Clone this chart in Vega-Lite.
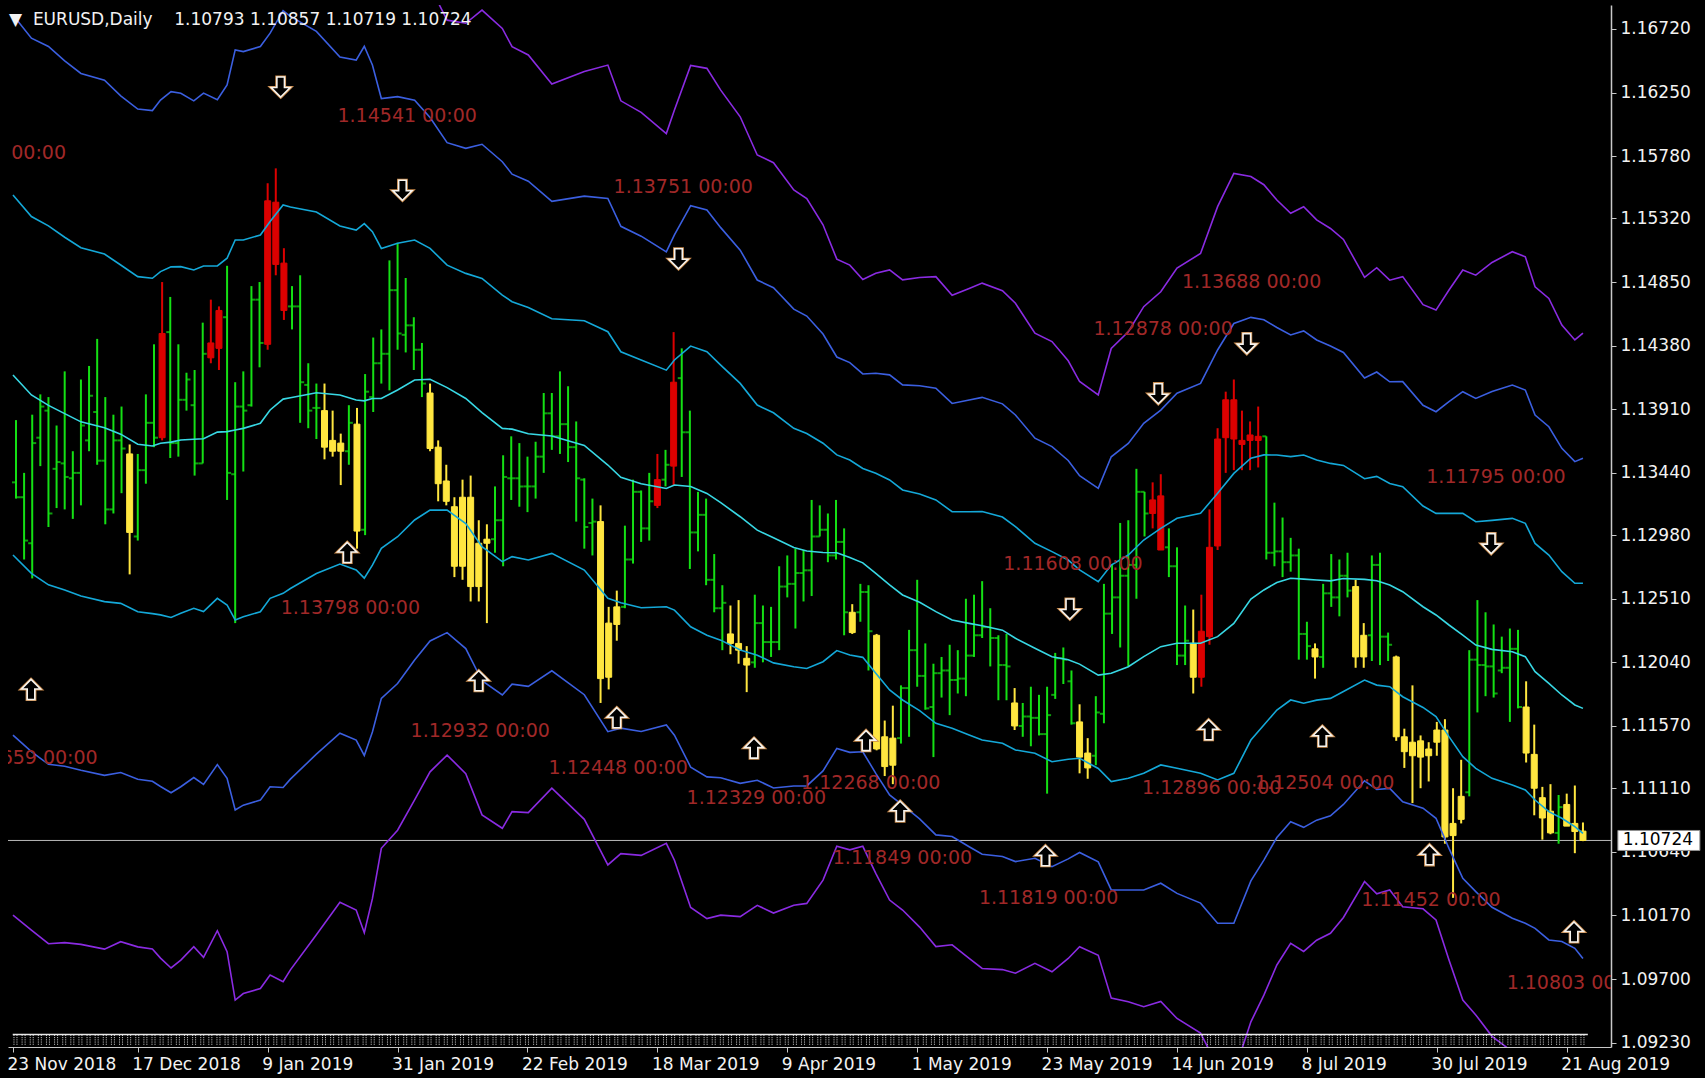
{
"$schema":"https://vega.github.io/schema/vega-lite/v6.json",
"width":1603,"height":1042,
"autosize":{"type":"none"},
"padding":{"left":8,"top":5,"right":94,"bottom":31},
"background":"black",
"config":{"view":{"fill":"black","stroke":null}},
"title":{"text":"▼\u00a0 EURUSD,Daily\u00a0\u00a0\u00a0 1.10793 1.10857 1.10719 1.10724","anchor":"start","frame":"group","orient":"top","offset":0,"baseline":"middle","dy":32,"dx":1,"color":"#f2f2f2","font":"DejaVu Sans","fontSize":17,"fontWeight":"normal"},
"datasets":{
"bars":[
{"k":0,"t":"g","o":1.1337,"h":1.1383,"l":1.1325,"c":1.1326},
{"k":1,"t":"g","o":1.1326,"h":1.1344,"l":1.1280,"c":1.1294},
{"k":2,"t":"g","o":1.1292,"h":1.1387,"l":1.1266,"c":1.1366},
{"k":3,"t":"g","o":1.1370,"h":1.1402,"l":1.1349,"c":1.1393},
{"k":4,"t":"g","o":1.1390,"h":1.1400,"l":1.1304,"c":1.1314},
{"k":5,"t":"g","o":1.1347,"h":1.1379,"l":1.1318,"c":1.1352},
{"k":6,"t":"g","o":1.1351,"h":1.1419,"l":1.1317,"c":1.1341},
{"k":7,"t":"g","o":1.1340,"h":1.1360,"l":1.1310,"c":1.1344},
{"k":8,"t":"g","o":1.1344,"h":1.1413,"l":1.1320,"c":1.1379},
{"k":9,"t":"g","o":1.1368,"h":1.1423,"l":1.1360,"c":1.1401},
{"k":10,"t":"g","o":1.1389,"h":1.1443,"l":1.1350,"c":1.1353},
{"k":11,"t":"g","o":1.1353,"h":1.1400,"l":1.1306,"c":1.1317},
{"k":12,"t":"g","o":1.1317,"h":1.1387,"l":1.1314,"c":1.1368},
{"k":13,"t":"g","o":1.1368,"h":1.1393,"l":1.1329,"c":1.1362},
{"k":14,"t":"y","o":1.1358,"h":1.1365,"l":1.1269,"c":1.1300},
{"k":15,"t":"g","o":1.1297,"h":1.1358,"l":1.1294,"c":1.1346},
{"k":16,"t":"g","o":1.1346,"h":1.1402,"l":1.1336,"c":1.1381},
{"k":17,"t":"g","o":1.1381,"h":1.1439,"l":1.1363,"c":1.1370},
{"k":18,"t":"r","o":1.1370,"h":1.1485,"l":1.1368,"c":1.1447},
{"k":19,"t":"g","o":1.1448,"h":1.1474,"l":1.1355,"c":1.1366},
{"k":20,"t":"g","o":1.1366,"h":1.1439,"l":1.1356,"c":1.1398},
{"k":21,"t":"g","o":1.1398,"h":1.1418,"l":1.1390,"c":1.1413},
{"k":22,"t":"g","o":1.1394,"h":1.1420,"l":1.1342,"c":1.1351},
{"k":23,"t":"g","o":1.1351,"h":1.1455,"l":1.1351,"c":1.1432},
{"k":24,"t":"r","o":1.1429,"h":1.1472,"l":1.1425,"c":1.1440},
{"k":25,"t":"r","o":1.1436,"h":1.1467,"l":1.1420,"c":1.1464},
{"k":26,"t":"g","o":1.1459,"h":1.1497,"l":1.1324,"c":1.1344},
{"k":27,"t":"g","o":1.1343,"h":1.1411,"l":1.1233,"c":1.1393},
{"k":28,"t":"g","o":1.1393,"h":1.1419,"l":1.1345,"c":1.1390},
{"k":29,"t":"g","o":1.1394,"h":1.1482,"l":1.1393,"c":1.1472},
{"k":30,"t":"g","o":1.1472,"h":1.1485,"l":1.1422,"c":1.1440},
{"k":31,"t":"r","o":1.1439,"h":1.1558,"l":1.1435,"c":1.1545},
{"k":32,"t":"r","o":1.1544,"h":1.1569,"l":1.1490,"c":1.1498},
{"k":33,"t":"r","o":1.1499,"h":1.1510,"l":1.1457,"c":1.1464},
{"k":34,"t":"g","o":1.1467,"h":1.1482,"l":1.1450,"c":1.1467},
{"k":35,"t":"g","o":1.1467,"h":1.1490,"l":1.1381,"c":1.1411},
{"k":36,"t":"g","o":1.1409,"h":1.1425,"l":1.1377,"c":1.1390},
{"k":37,"t":"g","o":1.1392,"h":1.1410,"l":1.1369,"c":1.1392},
{"k":38,"t":"y","o":1.1390,"h":1.1410,"l":1.1354,"c":1.1363},
{"k":39,"t":"y","o":1.1368,"h":1.1390,"l":1.1356,"c":1.1360},
{"k":40,"t":"y","o":1.1366,"h":1.1373,"l":1.1335,"c":1.1360},
{"k":41,"t":"g","o":1.1360,"h":1.1394,"l":1.1350,"c":1.1381},
{"k":42,"t":"y","o":1.1380,"h":1.1392,"l":1.1288,"c":1.1301},
{"k":43,"t":"g","o":1.1302,"h":1.1417,"l":1.1298,"c":1.1404},
{"k":44,"t":"g","o":1.1400,"h":1.1444,"l":1.1389,"c":1.1425},
{"k":45,"t":"g","o":1.1425,"h":1.1450,"l":1.1410,"c":1.1432},
{"k":46,"t":"g","o":1.1432,"h":1.1501,"l":1.1405,"c":1.1479},
{"k":47,"t":"g","o":1.1479,"h":1.1514,"l":1.1435,"c":1.1447},
{"k":48,"t":"g","o":1.1446,"h":1.1488,"l":1.1433,"c":1.1453},
{"k":49,"t":"g","o":1.1453,"h":1.1459,"l":1.1420,"c":1.1435},
{"k":50,"t":"g","o":1.1435,"h":1.1440,"l":1.1400,"c":1.1410},
{"k":51,"t":"y","o":1.1403,"h":1.1410,"l":1.1360,"c":1.1362},
{"k":52,"t":"y","o":1.1363,"h":1.1368,"l":1.1323,"c":1.1336},
{"k":53,"t":"y","o":1.1338,"h":1.1350,"l":1.1320,"c":1.1323},
{"k":54,"t":"y","o":1.1319,"h":1.1326,"l":1.1267,"c":1.1275},
{"k":55,"t":"y","o":1.1275,"h":1.1339,"l":1.1265,"c":1.1326},
{"k":56,"t":"y","o":1.1326,"h":1.1342,"l":1.1249,"c":1.1260},
{"k":57,"t":"y","o":1.1260,"h":1.1309,"l":1.1249,"c":1.1292},
{"k":58,"t":"y","o":1.1292,"h":1.1306,"l":1.1233,"c":1.1295},
{"k":59,"t":"g","o":1.1295,"h":1.1334,"l":1.1285,"c":1.1309},
{"k":60,"t":"g","o":1.1309,"h":1.1357,"l":1.1275,"c":1.1341},
{"k":61,"t":"g","o":1.1340,"h":1.1371,"l":1.1324,"c":1.1340},
{"k":62,"t":"g","o":1.1340,"h":1.1366,"l":1.1319,"c":1.1334},
{"k":63,"t":"g","o":1.1334,"h":1.1356,"l":1.1315,"c":1.1334},
{"k":64,"t":"g","o":1.1334,"h":1.1367,"l":1.1325,"c":1.1356},
{"k":65,"t":"g","o":1.1356,"h":1.1403,"l":1.1344,"c":1.1388},
{"k":66,"t":"g","o":1.1388,"h":1.1403,"l":1.1361,"c":1.1371},
{"k":67,"t":"g","o":1.1371,"h":1.1419,"l":1.1358,"c":1.1380},
{"k":68,"t":"g","o":1.1380,"h":1.1408,"l":1.1352,"c":1.1363},
{"k":69,"t":"g","o":1.1363,"h":1.1382,"l":1.1308,"c":1.1340},
{"k":70,"t":"g","o":1.1339,"h":1.1340,"l":1.1288,"c":1.1304},
{"k":71,"t":"g","o":1.1307,"h":1.1325,"l":1.1283,"c":1.1308},
{"k":72,"t":"y","o":1.1308,"h":1.1320,"l":1.1174,"c":1.1192},
{"k":73,"t":"y","o":1.1193,"h":1.1245,"l":1.1184,"c":1.1233},
{"k":74,"t":"y","o":1.1232,"h":1.1257,"l":1.1220,"c":1.1245},
{"k":75,"t":"g","o":1.1245,"h":1.1305,"l":1.1244,"c":1.1280},
{"k":76,"t":"g","o":1.1280,"h":1.1339,"l":1.1277,"c":1.1330},
{"k":77,"t":"g","o":1.1330,"h":1.1331,"l":1.1293,"c":1.1303},
{"k":78,"t":"g","o":1.1303,"h":1.1344,"l":1.1294,"c":1.1323},
{"k":79,"t":"r","o":1.1320,"h":1.1358,"l":1.1318,"c":1.1339},
{"k":80,"t":"g","o":1.1339,"h":1.1361,"l":1.1334,"c":1.1350},
{"k":81,"t":"r","o":1.1349,"h":1.1448,"l":1.1335,"c":1.1411},
{"k":82,"t":"g","o":1.1414,"h":1.1436,"l":1.1341,"c":1.1374},
{"k":83,"t":"g","o":1.1374,"h":1.1390,"l":1.1273,"c":1.1300},
{"k":84,"t":"g","o":1.1300,"h":1.1330,"l":1.1286,"c":1.1313},
{"k":85,"t":"g","o":1.1313,"h":1.1325,"l":1.1261,"c":1.1265},
{"k":86,"t":"g","o":1.1265,"h":1.1284,"l":1.1241,"c":1.1244},
{"k":87,"t":"g","o":1.1244,"h":1.1261,"l":1.1213,"c":1.1248},
{"k":88,"t":"y","o":1.1225,"h":1.1246,"l":1.1210,"c":1.1218},
{"k":89,"t":"y","o":1.1218,"h":1.1250,"l":1.1203,"c":1.1213},
{"k":90,"t":"y","o":1.1207,"h":1.1216,"l":1.1182,"c":1.1202},
{"k":91,"t":"g","o":1.1204,"h":1.1254,"l":1.1200,"c":1.1233},
{"k":92,"t":"g","o":1.1233,"h":1.1246,"l":1.1204,"c":1.1219},
{"k":93,"t":"g","o":1.1219,"h":1.1245,"l":1.1208,"c":1.1219},
{"k":94,"t":"g","o":1.1219,"h":1.1275,"l":1.1213,"c":1.1260},
{"k":95,"t":"g","o":1.1260,"h":1.1283,"l":1.1252,"c":1.1262},
{"k":96,"t":"g","o":1.1262,"h":1.1288,"l":1.1229,"c":1.1270},
{"k":97,"t":"g","o":1.1270,"h":1.1287,"l":1.1249,"c":1.1272},
{"k":98,"t":"g","o":1.1272,"h":1.1324,"l":1.1253,"c":1.1297},
{"k":99,"t":"g","o":1.1297,"h":1.1320,"l":1.1297,"c":1.1302},
{"k":100,"t":"g","o":1.1302,"h":1.1314,"l":1.1278,"c":1.1283},
{"k":101,"t":"g","o":1.1283,"h":1.1324,"l":1.1280,"c":1.1293},
{"k":102,"t":"g","o":1.1293,"h":1.1303,"l":1.1224,"c":1.1241},
{"k":103,"t":"y","o":1.1241,"h":1.1247,"l":1.1225,"c":1.1226},
{"k":104,"t":"g","o":1.1241,"h":1.1262,"l":1.1234,"c":1.1256},
{"k":105,"t":"g","o":1.1256,"h":1.1261,"l":1.1198,"c":1.1227},
{"k":106,"t":"y","o":1.1224,"h":1.1225,"l":1.1139,"c":1.1140},
{"k":107,"t":"y","o":1.1149,"h":1.1161,"l":1.1120,"c":1.1127},
{"k":108,"t":"y","o":1.1128,"h":1.1172,"l":1.1114,"c":1.1148},
{"k":109,"t":"g","o":1.1148,"h":1.1187,"l":1.1144,"c":1.1185},
{"k":110,"t":"g","o":1.1185,"h":1.1228,"l":1.1149,"c":1.1213},
{"k":111,"t":"g","o":1.1213,"h":1.1265,"l":1.1186,"c":1.1194},
{"k":112,"t":"g","o":1.1194,"h":1.1218,"l":1.1169,"c":1.1170},
{"k":113,"t":"g","o":1.1171,"h":1.1203,"l":1.1134,"c":1.1196},
{"k":114,"t":"g","o":1.1196,"h":1.1208,"l":1.1178,"c":1.1198},
{"k":115,"t":"g","o":1.1198,"h":1.1217,"l":1.1165,"c":1.1191},
{"k":116,"t":"g","o":1.1191,"h":1.1213,"l":1.1181,"c":1.1192},
{"k":117,"t":"g","o":1.1192,"h":1.1251,"l":1.1179,"c":1.1209},
{"k":118,"t":"g","o":1.1209,"h":1.1254,"l":1.1208,"c":1.1224},
{"k":119,"t":"g","o":1.1224,"h":1.1264,"l":1.1222,"c":1.1230},
{"k":120,"t":"g","o":1.1230,"h":1.1244,"l":1.1201,"c":1.1222},
{"k":121,"t":"g","o":1.1222,"h":1.1224,"l":1.1176,"c":1.1202},
{"k":122,"t":"g","o":1.1202,"h":1.1225,"l":1.1176,"c":1.1201},
{"k":123,"t":"y","o":1.1174,"h":1.1185,"l":1.1154,"c":1.1157},
{"k":124,"t":"g","o":1.1157,"h":1.1174,"l":1.1149,"c":1.1164},
{"k":125,"t":"g","o":1.1164,"h":1.1186,"l":1.1142,"c":1.1163},
{"k":126,"t":"g","o":1.1163,"h":1.1180,"l":1.1150,"c":1.1151},
{"k":127,"t":"g","o":1.1151,"h":1.1186,"l":1.1107,"c":1.1165},
{"k":128,"t":"g","o":1.1180,"h":1.1211,"l":1.1177,"c":1.1207},
{"k":129,"t":"g","o":1.1207,"h":1.1215,"l":1.1188,"c":1.1206},
{"k":130,"t":"g","o":1.1190,"h":1.1198,"l":1.1158,"c":1.1159},
{"k":131,"t":"y","o":1.1160,"h":1.1173,"l":1.1122,"c":1.1134},
{"k":132,"t":"y","o":1.1137,"h":1.1148,"l":1.1118,"c":1.1126},
{"k":133,"t":"g","o":1.1135,"h":1.1179,"l":1.1128,"c":1.1167},
{"k":134,"t":"g","o":1.1166,"h":1.1262,"l":1.1159,"c":1.1240},
{"k":135,"t":"g","o":1.1240,"h":1.1276,"l":1.1225,"c":1.1252},
{"k":136,"t":"g","o":1.1252,"h":1.1307,"l":1.1215,"c":1.1268},
{"k":137,"t":"g","o":1.1268,"h":1.1309,"l":1.1201,"c":1.1276},
{"k":138,"t":"g","o":1.1276,"h":1.1347,"l":1.1251,"c":1.1330},
{"k":139,"t":"g","o":1.1330,"h":1.1330,"l":1.1297,"c":1.1314},
{"k":140,"t":"r","o":1.1314,"h":1.1337,"l":1.1303,"c":1.1324},
{"k":141,"t":"r","o":1.1327,"h":1.1343,"l":1.1287,"c":1.1287},
{"k":142,"t":"g","o":1.1289,"h":1.1303,"l":1.1267,"c":1.1275},
{"k":143,"t":"g","o":1.1275,"h":1.1289,"l":1.1202,"c":1.1209},
{"k":144,"t":"g","o":1.1209,"h":1.1246,"l":1.1202,"c":1.1220},
{"k":145,"t":"y","o":1.1218,"h":1.1243,"l":1.1181,"c":1.1193},
{"k":146,"t":"r","o":1.1193,"h":1.1254,"l":1.1186,"c":1.1227},
{"k":147,"t":"r","o":1.1223,"h":1.1317,"l":1.1217,"c":1.1289},
{"k":148,"t":"r","o":1.1290,"h":1.1377,"l":1.1287,"c":1.1369},
{"k":149,"t":"r","o":1.1370,"h":1.1404,"l":1.1344,"c":1.1398},
{"k":150,"t":"r","o":1.1398,"h":1.1413,"l":1.1346,"c":1.1369},
{"k":151,"t":"r","o":1.1368,"h":1.1390,"l":1.1346,"c":1.1365},
{"k":152,"t":"r","o":1.1368,"h":1.1382,"l":1.1346,"c":1.1372},
{"k":153,"t":"r","o":1.1368,"h":1.1393,"l":1.1348,"c":1.1371},
{"k":154,"t":"g","o":1.1371,"h":1.1371,"l":1.1280,"c":1.1285},
{"k":155,"t":"g","o":1.1285,"h":1.1322,"l":1.1275,"c":1.1286},
{"k":156,"t":"g","o":1.1286,"h":1.1311,"l":1.1267,"c":1.1278},
{"k":157,"t":"g","o":1.1278,"h":1.1296,"l":1.1271,"c":1.1283},
{"k":158,"t":"g","o":1.1283,"h":1.1288,"l":1.1206,"c":1.1225},
{"k":159,"t":"g","o":1.1225,"h":1.1234,"l":1.1206,"c":1.1216},
{"k":160,"t":"y","o":1.1214,"h":1.1218,"l":1.1192,"c":1.1208},
{"k":161,"t":"g","o":1.1208,"h":1.1262,"l":1.1200,"c":1.1255},
{"k":162,"t":"g","o":1.1255,"h":1.1284,"l":1.1245,"c":1.1252},
{"k":163,"t":"g","o":1.1252,"h":1.1280,"l":1.1238,"c":1.1268},
{"k":164,"t":"g","o":1.1268,"h":1.1285,"l":1.1252,"c":1.1257},
{"k":165,"t":"y","o":1.1260,"h":1.1265,"l":1.1200,"c":1.1208},
{"k":166,"t":"y","o":1.1208,"h":1.1233,"l":1.1200,"c":1.1224},
{"k":167,"t":"g","o":1.1224,"h":1.1283,"l":1.1205,"c":1.1276},
{"k":168,"t":"g","o":1.1276,"h":1.1285,"l":1.1202,"c":1.1223},
{"k":169,"t":"g","o":1.1223,"h":1.1226,"l":1.1205,"c":1.1217},
{"k":170,"t":"y","o":1.1208,"h":1.1209,"l":1.1146,"c":1.1149},
{"k":171,"t":"y","o":1.1149,"h":1.1155,"l":1.1126,"c":1.1138},
{"k":172,"t":"y","o":1.1135,"h":1.1187,"l":1.1100,"c":1.1145},
{"k":173,"t":"y","o":1.1146,"h":1.1150,"l":1.1111,"c":1.1134},
{"k":174,"t":"y","o":1.1135,"h":1.1145,"l":1.1116,"c":1.1140},
{"k":175,"t":"y","o":1.1145,"h":1.1160,"l":1.1135,"c":1.1154},
{"k":176,"t":"y","o":1.1154,"h":1.1162,"l":1.1070,"c":1.1075},
{"k":177,"t":"y","o":1.1076,"h":1.1111,"l":1.1030,"c":1.1085},
{"k":178,"t":"y","o":1.1088,"h":1.1132,"l":1.1085,"c":1.1105},
{"k":179,"t":"g","o":1.1108,"h":1.1213,"l":1.1105,"c":1.1206},
{"k":180,"t":"g","o":1.1206,"h":1.1250,"l":1.1167,"c":1.1202},
{"k":181,"t":"g","o":1.1202,"h":1.1241,"l":1.1179,"c":1.1201},
{"k":182,"t":"g","o":1.1201,"h":1.1232,"l":1.1178,"c":1.1181},
{"k":183,"t":"g","o":1.1198,"h":1.1223,"l":1.1196,"c":1.1200},
{"k":184,"t":"g","o":1.1200,"h":1.1229,"l":1.1160,"c":1.1214},
{"k":185,"t":"g","o":1.1214,"h":1.1228,"l":1.1170,"c":1.1171},
{"k":186,"t":"y","o":1.1171,"h":1.1190,"l":1.1130,"c":1.1137},
{"k":187,"t":"y","o":1.1136,"h":1.1158,"l":1.1091,"c":1.1111},
{"k":188,"t":"y","o":1.1104,"h":1.1112,"l":1.1073,"c":1.1089},
{"k":189,"t":"y","o":1.1094,"h":1.1114,"l":1.1077,"c":1.1078},
{"k":190,"t":"g","o":1.1078,"h":1.1106,"l":1.1070,"c":1.1097},
{"k":191,"t":"y","o":1.1099,"h":1.1107,"l":1.1085,"c":1.1083},
{"k":192,"t":"y","o":1.1085,"h":1.1113,"l":1.1063,"c":1.1079},
{"k":193,"t":"y","o":1.10793,"h":1.10857,"l":1.10719,"c":1.10724}
],
"bands":[
{"k":-0.37,"m":1.14163,"u1":1.15493,"l1":1.12833,"u2":1.16823,"l2":1.11503,"u3":1.18153,"l3":1.10173},
{"k":1.9,"m":1.14016,"u1":1.15334,"l1":1.12698,"u2":1.16652,"l2":1.1138,"u3":1.1797,"l3":1.10062},
{"k":4,"m":1.13939,"u1":1.15265,"l1":1.12613,"u2":1.16591,"l2":1.11287,"u3":1.17917,"l3":1.09961},
{"k":6,"m":1.13878,"u1":1.15181,"l1":1.12575,"u2":1.16484,"l2":1.11272,"u3":1.17787,"l3":1.09969},
{"k":8,"m":1.13817,"u1":1.15104,"l1":1.1253,"u2":1.16391,"l2":1.11243,"u3":1.17678,"l3":1.09956},
{"k":10.9,"m":1.13773,"u1":1.15057,"l1":1.12489,"u2":1.16341,"l2":1.11205,"u3":1.17625,"l3":1.09921},
{"k":12.9,"m":1.13726,"u1":1.14976,"l1":1.12476,"u2":1.16226,"l2":1.11226,"u3":1.17476,"l3":1.09976},
{"k":15,"m":1.13652,"u1":1.1489,"l1":1.12414,"u2":1.16128,"l2":1.11176,"u3":1.17366,"l3":1.09938},
{"k":16.8,"m":1.13639,"u1":1.14878,"l1":1.124,"u2":1.16117,"l2":1.11161,"u3":1.17356,"l3":1.09922},
{"k":17.8,"m":1.13659,"u1":1.14927,"l1":1.12391,"u2":1.16195,"l2":1.11123,"u3":1.17463,"l3":1.09855},
{"k":19.1,"m":1.13667,"u1":1.14962,"l1":1.12372,"u2":1.16257,"l2":1.11077,"u3":1.17552,"l3":1.09782},
{"k":20.3,"m":1.13683,"u1":1.14964,"l1":1.12402,"u2":1.16245,"l2":1.11121,"u3":1.17526,"l3":1.0984},
{"k":21.9,"m":1.13689,"u1":1.14939,"l1":1.12439,"u2":1.16189,"l2":1.11189,"u3":1.17439,"l3":1.09939},
{"k":23.1,"m":1.13692,"u1":1.14969,"l1":1.12415,"u2":1.16246,"l2":1.11138,"u3":1.17523,"l3":1.09861},
{"k":24.8,"m":1.13741,"u1":1.14969,"l1":1.12513,"u2":1.16197,"l2":1.11285,"u3":1.17425,"l3":1.10057},
{"k":26,"m":1.13745,"u1":1.15026,"l1":1.12464,"u2":1.16307,"l2":1.11183,"u3":1.17588,"l3":1.09902},
{"k":27,"m":1.13757,"u1":1.15161,"l1":1.12353,"u2":1.16565,"l2":1.10949,"u3":1.17969,"l3":1.09545},
{"k":28,"m":1.13769,"u1":1.15161,"l1":1.12377,"u2":1.16553,"l2":1.10985,"u3":1.17945,"l3":1.09593},
{"k":30.1,"m":1.13806,"u1":1.15198,"l1":1.12414,"u2":1.1659,"l2":1.11022,"u3":1.17982,"l3":1.0963},
{"k":31.3,"m":1.13905,"u1":1.15297,"l1":1.12513,"u2":1.16689,"l2":1.11121,"u3":1.18081,"l3":1.09729},
{"k":32.9,"m":1.13985,"u1":1.1542,"l1":1.1255,"u2":1.16855,"l2":1.11115,"u3":1.1829,"l3":1.0968},
{"k":33.8,"m":1.13995,"u1":1.15404,"l1":1.12586,"u2":1.16813,"l2":1.11177,"u3":1.18222,"l3":1.09768},
{"k":37,"m":1.14032,"u1":1.15367,"l1":1.12697,"u2":1.16702,"l2":1.11362,"u3":1.18037,"l3":1.10027},
{"k":39.9,"m":1.14015,"u1":1.15264,"l1":1.12766,"u2":1.16513,"l2":1.11517,"u3":1.17762,"l3":1.10268},
{"k":41.9,"m":1.13978,"u1":1.15234,"l1":1.12722,"u2":1.1649,"l2":1.11466,"u3":1.17746,"l3":1.1021},
{"k":42.9,"m":1.13972,"u1":1.15282,"l1":1.12662,"u2":1.16592,"l2":1.11352,"u3":1.17902,"l3":1.10042},
{"k":43.9,"m":1.1399,"u1":1.15222,"l1":1.12758,"u2":1.16454,"l2":1.11526,"u3":1.17686,"l3":1.10294},
{"k":45,"m":1.1399,"u1":1.15098,"l1":1.12882,"u2":1.16206,"l2":1.11774,"u3":1.17314,"l3":1.10666},
{"k":47,"m":1.14052,"u1":1.15136,"l1":1.12968,"u2":1.1622,"l2":1.11884,"u3":1.17304,"l3":1.108},
{"k":49.1,"m":1.14126,"u1":1.1516,"l1":1.13092,"u2":1.16194,"l2":1.12058,"u3":1.17228,"l3":1.11024},
{"k":51,"m":1.14132,"u1":1.15099,"l1":1.13165,"u2":1.16066,"l2":1.12198,"u3":1.17033,"l3":1.11231},
{"k":53.1,"m":1.1407,"u1":1.14975,"l1":1.13165,"u2":1.1588,"l2":1.1226,"u3":1.16785,"l3":1.11355},
{"k":55.4,"m":1.1399,"u1":1.14914,"l1":1.13066,"u2":1.15838,"l2":1.12142,"u3":1.16762,"l3":1.11218},
{"k":57.4,"m":1.13886,"u1":1.14877,"l1":1.12895,"u2":1.15868,"l2":1.11904,"u3":1.16859,"l3":1.10913},
{"k":59.9,"m":1.13769,"u1":1.14754,"l1":1.12784,"u2":1.15739,"l2":1.11799,"u3":1.16724,"l3":1.10814},
{"k":61.1,"m":1.13763,"u1":1.14705,"l1":1.12821,"u2":1.15647,"l2":1.11879,"u3":1.16589,"l3":1.10937},
{"k":63.1,"m":1.13729,"u1":1.14662,"l1":1.12796,"u2":1.15595,"l2":1.11863,"u3":1.16528,"l3":1.1093},
{"k":66,"m":1.13712,"u1":1.14579,"l1":1.12845,"u2":1.15446,"l2":1.11978,"u3":1.16313,"l3":1.11111},
{"k":70,"m":1.13643,"u1":1.14564,"l1":1.12722,"u2":1.15485,"l2":1.11801,"u3":1.16406,"l3":1.1088},
{"k":72.9,"m":1.13498,"u1":1.14483,"l1":1.12513,"u2":1.15468,"l2":1.11528,"u3":1.16453,"l3":1.10543},
{"k":74.5,"m":1.13408,"u1":1.14335,"l1":1.12481,"u2":1.15262,"l2":1.11554,"u3":1.16189,"l3":1.10627},
{"k":77,"m":1.13359,"u1":1.14274,"l1":1.12444,"u2":1.15189,"l2":1.11529,"u3":1.16104,"l3":1.10614},
{"k":80.1,"m":1.13325,"u1":1.14199,"l1":1.12451,"u2":1.15073,"l2":1.11577,"u3":1.15947,"l3":1.10703},
{"k":81.1,"m":1.1335,"u1":1.14274,"l1":1.12426,"u2":1.15198,"l2":1.11502,"u3":1.16122,"l3":1.10578},
{"k":83.1,"m":1.1334,"u1":1.14377,"l1":1.12303,"u2":1.15414,"l2":1.11266,"u3":1.16451,"l3":1.10229},
{"k":85.1,"m":1.13288,"u1":1.14335,"l1":1.12241,"u2":1.15382,"l2":1.11194,"u3":1.16429,"l3":1.10147},
{"k":86.8,"m":1.1322,"u1":1.14236,"l1":1.12204,"u2":1.15252,"l2":1.11188,"u3":1.16268,"l3":1.10172},
{"k":89.2,"m":1.13116,"u1":1.14101,"l1":1.12131,"u2":1.15086,"l2":1.11146,"u3":1.16071,"l3":1.10161},
{"k":91.3,"m":1.13017,"u1":1.13941,"l1":1.12093,"u2":1.14865,"l2":1.11169,"u3":1.15789,"l3":1.10245},
{"k":93.3,"m":1.1296,"u1":1.13884,"l1":1.12036,"u2":1.14808,"l2":1.11112,"u3":1.15732,"l3":1.10188},
{"k":95.8,"m":1.12888,"u1":1.13769,"l1":1.12007,"u2":1.1465,"l2":1.11126,"u3":1.15531,"l3":1.10245},
{"k":97.4,"m":1.12863,"u1":1.13731,"l1":1.11995,"u2":1.14599,"l2":1.11127,"u3":1.15467,"l3":1.10259},
{"k":99.4,"m":1.12852,"u1":1.13659,"l1":1.12045,"u2":1.14466,"l2":1.11238,"u3":1.15273,"l3":1.10431},
{"k":101.1,"m":1.1285,"u1":1.13573,"l1":1.12127,"u2":1.14296,"l2":1.11404,"u3":1.15019,"l3":1.10681},
{"k":102.7,"m":1.12815,"u1":1.13535,"l1":1.12095,"u2":1.14255,"l2":1.11375,"u3":1.14975,"l3":1.10655},
{"k":104.3,"m":1.12775,"u1":1.13473,"l1":1.12077,"u2":1.14171,"l2":1.11379,"u3":1.14869,"l3":1.10681},
{"k":105.9,"m":1.12698,"u1":1.13437,"l1":1.11959,"u2":1.14176,"l2":1.1122,"u3":1.14915,"l3":1.10481},
{"k":107.6,"m":1.12612,"u1":1.13388,"l1":1.11836,"u2":1.14164,"l2":1.1106,"u3":1.1494,"l3":1.10284},
{"k":109.2,"m":1.12538,"u1":1.13314,"l1":1.11762,"u2":1.1409,"l2":1.10986,"u3":1.14866,"l3":1.1021},
{"k":111.3,"m":1.12484,"u1":1.13284,"l1":1.11684,"u2":1.14084,"l2":1.10884,"u3":1.14884,"l3":1.10084},
{"k":113.3,"m":1.12415,"u1":1.1324,"l1":1.1159,"u2":1.14065,"l2":1.10765,"u3":1.1489,"l3":1.0994},
{"k":115.3,"m":1.12353,"u1":1.13153,"l1":1.11553,"u2":1.13953,"l2":1.10753,"u3":1.14753,"l3":1.09953},
{"k":117.4,"m":1.12328,"u1":1.13153,"l1":1.11503,"u2":1.13978,"l2":1.10678,"u3":1.14803,"l3":1.09853},
{"k":119,"m":1.1231,"u1":1.13154,"l1":1.11466,"u2":1.13998,"l2":1.10622,"u3":1.14842,"l3":1.09778},
{"k":121.5,"m":1.12278,"u1":1.13114,"l1":1.11442,"u2":1.1395,"l2":1.10606,"u3":1.14786,"l3":1.0977},
{"k":123.1,"m":1.12218,"u1":1.13043,"l1":1.11393,"u2":1.13868,"l2":1.10568,"u3":1.14693,"l3":1.09743},
{"k":125.5,"m":1.12144,"u1":1.1292,"l1":1.11368,"u2":1.13696,"l2":1.10592,"u3":1.14472,"l3":1.09816},
{"k":127.6,"m":1.12082,"u1":1.12858,"l1":1.11306,"u2":1.13634,"l2":1.1053,"u3":1.1441,"l3":1.09754},
{"k":129.6,"m":1.1206,"u1":1.12796,"l1":1.11324,"u2":1.13532,"l2":1.10588,"u3":1.14268,"l3":1.09852},
{"k":131,"m":1.12027,"u1":1.12723,"l1":1.11331,"u2":1.13419,"l2":1.10635,"u3":1.14115,"l3":1.09939},
{"k":133.3,"m":1.11946,"u1":1.12636,"l1":1.11256,"u2":1.13326,"l2":1.10566,"u3":1.14016,"l3":1.09876},
{"k":134.9,"m":1.11959,"u1":1.12759,"l1":1.11159,"u2":1.13559,"l2":1.10359,"u3":1.14359,"l3":1.09559},
{"k":137,"m":1.12008,"u1":1.12833,"l1":1.11183,"u2":1.13658,"l2":1.10358,"u3":1.14483,"l3":1.09533},
{"k":138.9,"m":1.12082,"u1":1.12944,"l1":1.1122,"u2":1.13806,"l2":1.10358,"u3":1.14668,"l3":1.09496},
{"k":141,"m":1.12156,"u1":1.1303,"l1":1.11282,"u2":1.13904,"l2":1.10408,"u3":1.14778,"l3":1.09534},
{"k":143,"m":1.12181,"u1":1.13105,"l1":1.11257,"u2":1.14029,"l2":1.10333,"u3":1.14953,"l3":1.09409},
{"k":145.9,"m":1.12181,"u1":1.13141,"l1":1.11221,"u2":1.14101,"l2":1.10261,"u3":1.15061,"l3":1.09301},
{"k":148,"m":1.1223,"u1":1.13289,"l1":1.11171,"u2":1.14348,"l2":1.10112,"u3":1.15407,"l3":1.09053},
{"k":150,"m":1.12328,"u1":1.13436,"l1":1.1122,"u2":1.14544,"l2":1.10112,"u3":1.15652,"l3":1.09004},
{"k":152.1,"m":1.12507,"u1":1.13548,"l1":1.11466,"u2":1.14589,"l2":1.10425,"u3":1.1563,"l3":1.09384},
{"k":153.7,"m":1.12575,"u1":1.13573,"l1":1.11577,"u2":1.14571,"l2":1.10579,"u3":1.15569,"l3":1.09581},
{"k":155.3,"m":1.1263,"u1":1.13572,"l1":1.11688,"u2":1.14514,"l2":1.10746,"u3":1.15456,"l3":1.09804},
{"k":157,"m":1.12661,"u1":1.1356,"l1":1.11762,"u2":1.14459,"l2":1.10863,"u3":1.15358,"l3":1.09964},
{"k":158.6,"m":1.12655,"u1":1.13572,"l1":1.11738,"u2":1.14489,"l2":1.10821,"u3":1.15406,"l3":1.09904},
{"k":160.2,"m":1.12648,"u1":1.13535,"l1":1.11761,"u2":1.14422,"l2":1.10874,"u3":1.15309,"l3":1.09987},
{"k":161.9,"m":1.12642,"u1":1.1351,"l1":1.11774,"u2":1.14378,"l2":1.10906,"u3":1.15246,"l3":1.10038},
{"k":163.5,"m":1.1266,"u1":1.13495,"l1":1.11825,"u2":1.1433,"l2":1.1099,"u3":1.15165,"l3":1.10155},
{"k":166.1,"m":1.12653,"u1":1.13397,"l1":1.11909,"u2":1.14141,"l2":1.11165,"u3":1.14885,"l3":1.10421},
{"k":167.6,"m":1.12643,"u1":1.13414,"l1":1.11872,"u2":1.14185,"l2":1.11101,"u3":1.14956,"l3":1.1033},
{"k":169.2,"m":1.12611,"u1":1.13362,"l1":1.1186,"u2":1.14113,"l2":1.11109,"u3":1.14864,"l3":1.10358},
{"k":170.8,"m":1.12562,"u1":1.13338,"l1":1.11786,"u2":1.14114,"l2":1.1101,"u3":1.1489,"l3":1.10234},
{"k":173.3,"m":1.12451,"u1":1.13195,"l1":1.11707,"u2":1.13939,"l2":1.10963,"u3":1.14683,"l3":1.10219},
{"k":174.9,"m":1.1239,"u1":1.13141,"l1":1.11639,"u2":1.13892,"l2":1.10888,"u3":1.14643,"l3":1.10137},
{"k":176.5,"m":1.12316,"u1":1.13141,"l1":1.11491,"u2":1.13966,"l2":1.10666,"u3":1.14791,"l3":1.09841},
{"k":178.2,"m":1.12242,"u1":1.13141,"l1":1.11343,"u2":1.1404,"l2":1.10444,"u3":1.14939,"l3":1.09545},
{"k":179.8,"m":1.12168,"u1":1.13079,"l1":1.11257,"u2":1.1399,"l2":1.10346,"u3":1.14901,"l3":1.09435},
{"k":181.8,"m":1.12136,"u1":1.13089,"l1":1.11183,"u2":1.14042,"l2":1.1023,"u3":1.14995,"l3":1.09277},
{"k":184.3,"m":1.12119,"u1":1.13104,"l1":1.11134,"u2":1.14089,"l2":1.10149,"u3":1.15074,"l3":1.09164},
{"k":185.9,"m":1.12082,"u1":1.13067,"l1":1.11097,"u2":1.14052,"l2":1.10112,"u3":1.15037,"l3":1.09127},
{"k":187.1,"m":1.11971,"u1":1.12919,"l1":1.11023,"u2":1.13867,"l2":1.10075,"u3":1.14815,"l3":1.09127},
{"k":188.8,"m":1.11885,"u1":1.12833,"l1":1.10937,"u2":1.13781,"l2":1.09989,"u3":1.14729,"l3":1.09041},
{"k":190.4,"m":1.11799,"u1":1.1271,"l1":1.10888,"u2":1.13621,"l2":1.09977,"u3":1.14532,"l3":1.09066},
{"k":192,"m":1.11725,"u1":1.12624,"l1":1.10826,"u2":1.13523,"l2":1.09927,"u3":1.14422,"l3":1.09028},
{"k":193,"m":1.117,"u1":1.12624,"l1":1.10776,"u2":1.13548,"l2":1.09852,"u3":1.14472,"l3":1.08928}
],
"arrows":[
{"k":32.6,"p":1.16291,"dir":"down"},{"k":47.6,"p":1.15528,"dir":"down"},{"k":81.6,"p":1.15022,"dir":"down"},{"k":129.8,"p":1.12434,"dir":"down"},{"k":140.7,"p":1.14025,"dir":"down"},{"k":151.6,"p":1.14395,"dir":"down"},{"k":181.7,"p":1.12917,"dir":"down"},
{"k":1.85,"p":1.1184,"dir":"up"},{"k":40.8,"p":1.12852,"dir":"up"},{"k":57.0,"p":1.11904,"dir":"up"},{"k":74.0,"p":1.11631,"dir":"up"},{"k":90.9,"p":1.11406,"dir":"up"},{"k":104.7,"p":1.11462,"dir":"up"},{"k":108.9,"p":1.1094,"dir":"up"},{"k":126.8,"p":1.10611,"dir":"up"},{"k":146.9,"p":1.11542,"dir":"up"},{"k":160.9,"p":1.11494,"dir":"up"},{"k":174.1,"p":1.10618,"dir":"up"},{"k":191.9,"p":1.10048,"dir":"up"}
],
"labels":[
{"k":-11.0,"p":1.15801,"text":"1.14872 00:00"},
{"k":-7.1,"p":1.11334,"text":"1.11659 00:00"},
{"k":39.6,"p":1.16074,"text":"1.14541 00:00"},
{"k":73.6,"p":1.15552,"text":"1.13751 00:00"},
{"k":32.6,"p":1.12442,"text":"1.13798 00:00"},
{"k":48.6,"p":1.11535,"text":"1.12932 00:00"},
{"k":65.6,"p":1.11261,"text":"1.12448 00:00"},
{"k":82.6,"p":1.11036,"text":"1.12329 00:00"},
{"k":96.7,"p":1.11149,"text":"1.12268 00:00"},
{"k":100.6,"p":1.10594,"text":"1.11849 00:00"},
{"k":118.6,"p":1.10297,"text":"1.11819 00:00"},
{"k":121.6,"p":1.12764,"text":"1.11608 00:00"},
{"k":132.7,"p":1.145,"text":"1.12878 00:00"},
{"k":143.6,"p":1.14853,"text":"1.13688 00:00"},
{"k":138.7,"p":1.11109,"text":"1.12896 00:00"},
{"k":152.6,"p":1.11149,"text":"1.12504 00:00"},
{"k":173.7,"p":1.13407,"text":"1.11795 00:00"},
{"k":165.7,"p":1.10281,"text":"1.11452 00:00"},
{"k":183.6,"p":1.0967,"text":"1.10803 00:00"}
],
"bid":[{"p":1.10724}]
},
"layer":[
{"data":{"name":"bid"},"mark":{"type":"rule","color":"#b8b8b8","strokeWidth":1},
 "encoding":{"y":{"field":"p","type":"quantitative","title":null,"scale":{"domain":[1.09198,1.16897],"nice":false,"zero":false},
  "axis":{"orient":"right","values":[1.0923,1.097,1.1017,1.1064,1.1111,1.1157,1.1204,1.1251,1.1298,1.1344,1.1391,1.1438,1.1485,1.1532,1.1578,1.1625,1.1672],"format":".5f","labelColor":"#f2f2f2","labelFont":"DejaVu Sans","labelFontSize":17,"tickSize":5,"tickColor":"#c8c8c8","domainColor":"#c8c8c8","domainWidth":1.5,"labelPadding":4,"labelBound":false,"labelOverlap":false,"labelFlush":false,"grid":false}}}},
{"data":{"name":"bars"},"transform":[{"filter":"datum.t == 'g'"}],"mark":{"type":"rule","color":"#14e014","strokeWidth":2},
 "encoding":{"x":{"field":"k","type":"quantitative","title":null,"scale":{"domain":[-0.3672,195.838],"nice":false,"zero":false},
   "axis":{"values":[-0.36,15,31,47,63,79,95,111,127,143,159,175,191],"labelExpr":"datum.value < 0 ? '23 Nov 2018' : ['17 Dec 2018','9 Jan 2019','31 Jan 2019','22 Feb 2019','18 Mar 2019','9 Apr 2019','1 May 2019','23 May 2019','14 Jun 2019','8 Jul 2019','30 Jul 2019','21 Aug 2019'][round((datum.value-15)/16)]","labelAlign":"left","labelBaseline":"top","labelOffset":-6,"labelPadding":4,"labelColor":"#f2f2f2","labelFont":"DejaVu Sans","labelFontSize":17,"tickSize":5,"tickColor":"#c8c8c8","domainColor":"#c8c8c8","labelBound":false,"labelOverlap":false,"labelFlush":false,"grid":false}},
  "y":{"field":"h","type":"quantitative","title":null,"scale":{"domain":[1.09198,1.16897],"nice":false,"zero":false}},
  "y2":{"field":"l"}}},
{"data":{"name":"bars"},"transform":[{"filter":"datum.t == 'g'"}],"mark":{"type":"tick","orient":"horizontal","color":"#14e014","size":4,"thickness":2,"xOffset":-2},
 "encoding":{"x":{"field":"k","type":"quantitative","title":null,"scale":{"domain":[-0.3672,195.838],"nice":false,"zero":false}},
  "y":{"field":"o","type":"quantitative","title":null,"scale":{"domain":[1.09198,1.16897],"nice":false,"zero":false}}}},
{"data":{"name":"bars"},"transform":[{"filter":"datum.t == 'g'"}],"mark":{"type":"tick","orient":"horizontal","color":"#14e014","size":4,"thickness":2,"xOffset":2},
 "encoding":{"x":{"field":"k","type":"quantitative","title":null,"scale":{"domain":[-0.3672,195.838],"nice":false,"zero":false}},
  "y":{"field":"c","type":"quantitative","title":null,"scale":{"domain":[1.09198,1.16897],"nice":false,"zero":false}}}},
{"data":{"name":"bars"},"transform":[{"filter":"datum.t == 'y'"}],"mark":{"type":"rule","color":"#ffe640","strokeWidth":2},
 "encoding":{"x":{"field":"k","type":"quantitative","title":null,"scale":{"domain":[-0.3672,195.838],"nice":false,"zero":false}},
  "y":{"field":"h","type":"quantitative","title":null,"scale":{"domain":[1.09198,1.16897],"nice":false,"zero":false}},"y2":{"field":"l"}}},
{"data":{"name":"bars"},"transform":[{"filter":"datum.t == 'y'"}],"mark":{"type":"bar","color":"#ffe640","stroke":"#ffe640","strokeWidth":1,"width":6},
 "encoding":{"x":{"field":"k","type":"quantitative","title":null,"scale":{"domain":[-0.3672,195.838],"nice":false,"zero":false}},
  "y":{"field":"o","type":"quantitative","title":null,"scale":{"domain":[1.09198,1.16897],"nice":false,"zero":false}},"y2":{"field":"c"}}},
{"data":{"name":"bars"},"transform":[{"filter":"datum.t == 'r'"}],"mark":{"type":"rule","color":"#dc0000","strokeWidth":2},
 "encoding":{"x":{"field":"k","type":"quantitative","title":null,"scale":{"domain":[-0.3672,195.838],"nice":false,"zero":false}},
  "y":{"field":"h","type":"quantitative","title":null,"scale":{"domain":[1.09198,1.16897],"nice":false,"zero":false}},"y2":{"field":"l"}}},
{"data":{"name":"bars"},"transform":[{"filter":"datum.t == 'r'"}],"mark":{"type":"bar","color":"#dc0000","stroke":"#dc0000","strokeWidth":1,"width":6},
 "encoding":{"x":{"field":"k","type":"quantitative","title":null,"scale":{"domain":[-0.3672,195.838],"nice":false,"zero":false}},
  "y":{"field":"o","type":"quantitative","title":null,"scale":{"domain":[1.09198,1.16897],"nice":false,"zero":false}},"y2":{"field":"c"}}},
{"data":{"name":"bands"},"transform":[{"fold":["u3","u2","u1","m","l1","l2","l3"],"as":["line","p"]}],
 "mark":{"type":"line","strokeWidth":1.6,"clip":true,"interpolate":"linear"},
 "encoding":{"x":{"field":"k","type":"quantitative","title":null,"scale":{"domain":[-0.3672,195.838],"nice":false,"zero":false}},
  "y":{"field":"p","type":"quantitative","title":null,"scale":{"domain":[1.09198,1.16897],"nice":false,"zero":false}},
  "color":{"field":"line","type":"nominal","legend":null,"scale":{"domain":["u3","u2","u1","m","l1","l2","l3"],"range":["#8a2be2","#3b5fe0","#14a8d8","#38d8e4","#14a8d8","#3b5fe0","#8a2be2"]}}}},
{"data":{"name":"bars"},"mark":{"type":"rule","color":"#d8d8d8","strokeWidth":1,"strokeDash":[1,1.2],"xOffset":-2,"clip":true},
 "encoding":{"x":{"field":"k","type":"quantitative","title":null,"scale":{"domain":[-0.3672,195.838],"nice":false,"zero":false}},
  "y":{"datum":1.09287,"type":"quantitative","scale":{"domain":[1.09198,1.16897],"nice":false,"zero":false}},"y2":{"datum":1.09207}}},
{"data":{"name":"bars"},"mark":{"type":"rule","color":"#d8d8d8","strokeWidth":1,"strokeDash":[1,1.2],"xOffset":1,"clip":true},
 "encoding":{"x":{"field":"k","type":"quantitative","title":null,"scale":{"domain":[-0.3672,195.838],"nice":false,"zero":false}},
  "y":{"datum":1.09287,"type":"quantitative","scale":{"domain":[1.09198,1.16897],"nice":false,"zero":false}},"y2":{"datum":1.09207}}},
{"data":{"name":"bid"},"mark":{"type":"rule","color":"#e8e8e8","strokeWidth":1.5,"clip":true},
 "encoding":{"x":{"datum":-0.4,"type":"quantitative","scale":{"domain":[-0.3672,195.838],"nice":false,"zero":false}},"x2":{"datum":193.6},
  "y":{"datum":1.0929,"type":"quantitative","scale":{"domain":[1.09198,1.16897],"nice":false,"zero":false}}}},
{"data":{"name":"arrows"},"mark":{"type":"point","filled":false,"fill":"black","fillOpacity":1,"stroke":"#c98a4b","strokeWidth":3.2,"opacity":1},
 "encoding":{"x":{"field":"k","type":"quantitative","title":null,"scale":{"domain":[-0.3672,195.838],"nice":false,"zero":false}},
  "y":{"field":"p","type":"quantitative","title":null,"scale":{"domain":[1.09198,1.16897],"nice":false,"zero":false}},
  "shape":{"field":"dir","type":"nominal","legend":null,"scale":{"domain":["up","down"],"range":["M0,-1L0.95,-0.05L0.38,-0.05L0.38,1L-0.38,1L-0.38,-0.05L-0.95,-0.05Z","M0,1L0.95,0.05L0.38,0.05L0.38,-1L-0.38,-1L-0.38,0.05L-0.95,0.05Z"]}},
  "size":{"value":400}}},
{"data":{"name":"arrows"},"mark":{"type":"point","filled":false,"fill":"black","fillOpacity":1,"stroke":"#f6f3ee","strokeWidth":1.6,"opacity":1},
 "encoding":{"x":{"field":"k","type":"quantitative","title":null,"scale":{"domain":[-0.3672,195.838],"nice":false,"zero":false}},
  "y":{"field":"p","type":"quantitative","title":null,"scale":{"domain":[1.09198,1.16897],"nice":false,"zero":false}},
  "shape":{"field":"dir","type":"nominal","legend":null,"scale":{"domain":["up","down"],"range":["M0,-1L0.95,-0.05L0.38,-0.05L0.38,1L-0.38,1L-0.38,-0.05L-0.95,-0.05Z","M0,1L0.95,0.05L0.38,0.05L0.38,-1L-0.38,-1L-0.38,0.05L-0.95,0.05Z"]}},
  "size":{"value":400}}},
{"data":{"name":"labels"},"mark":{"type":"text","font":"DejaVu Sans","fontSize":19,"align":"left","baseline":"middle","color":"#a02828","clip":true},
 "encoding":{"x":{"field":"k","type":"quantitative","title":null,"scale":{"domain":[-0.3672,195.838],"nice":false,"zero":false}},
  "y":{"field":"p","type":"quantitative","title":null,"scale":{"domain":[1.09198,1.16897],"nice":false,"zero":false}},
  "text":{"field":"text"}}},
{"data":{"name":"bid"},"mark":{"type":"rect","fill":"white","stroke":"#909090","strokeWidth":1,"height":20,"clip":false},
 "encoding":{"x":{"datum":197.3,"type":"quantitative","scale":{"domain":[-0.3672,195.838],"nice":false,"zero":false}},"x2":{"datum":207.4},
  "y":{"field":"p","type":"quantitative","title":null,"scale":{"domain":[1.09198,1.16897],"nice":false,"zero":false}}}},
{"data":{"name":"bid"},"mark":{"type":"text","font":"DejaVu Sans","fontSize":17,"align":"left","baseline":"middle","color":"black","clip":false},
 "encoding":{"x":{"datum":197.9,"type":"quantitative","scale":{"domain":[-0.3672,195.838],"nice":false,"zero":false}},
  "y":{"field":"p","type":"quantitative","title":null,"scale":{"domain":[1.09198,1.16897],"nice":false,"zero":false}},
  "text":{"field":"p","type":"quantitative","format":".5f"}}}
]
}
